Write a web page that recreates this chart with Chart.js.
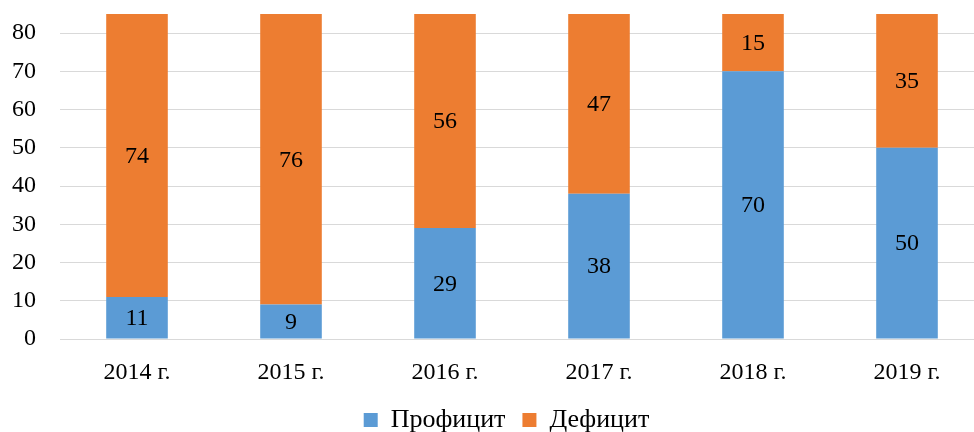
<!DOCTYPE html>
<html lang="ru">
<head>
<meta charset="UTF-8" />
<title>Профицит и дефицит</title>
<script src="https://cdn.jsdelivr.net/npm/chart.js"></script>
<style>
    html, body {
        margin: 0;
        padding: 0;
        background: #fff;
        overflow: hidden;
    }
    canvas {
        display: block;
    }
</style>
</head>
<body>
<canvas id="grafico" width="1014" height="432"></canvas>
<script>
    // Данные
    const anos = ['2014 г.', '2015 г.', '2016 г.', '2017 г.', '2018 г.', '2019 г.'];
    const proficit = [11, 9, 29, 38, 70, 50];
    const deficit = [74, 76, 56, 47, 15, 35];
    const marcasY = [0, 10, 20, 30, 40, 50, 60, 70, 80];

    const familia = "'Liberation Serif', 'Times New Roman', serif";
    const fonte = { family: familia, size: 24 };
    const fonteLegenda = { family: familia, size: 26 };

    // rótulos no meio de cada segmento
    const rotulos = {
        id: 'rotulos',
        afterDatasetsDraw(chart) {
            const ctx = chart.ctx;
            ctx.save();
            ctx.font = fonte.size + 'px ' + fonte.family;
            ctx.fillStyle = '#000';
            ctx.textAlign = 'center';
            ctx.textBaseline = 'middle';
            chart.data.datasets.forEach((ds, i) => {
                chart.getDatasetMeta(i).data.forEach((bar, j) => {
                    const y = (bar.y + bar.base) / 2;
                    ctx.fillText(String(ds.data[j]), bar.x, y + 1);
                });
            });
            ctx.restore();
        }
    };

    // legenda: altura fixa e posição ajustada
    const legendaPos = {
        id: 'legendaPos',
        beforeLayout(chart) {
            const lg = chart.legend;
            if (lg && !lg._fitOriginal) {
                lg._fitOriginal = lg.fit;
                lg.fit = function () {
                    this._fitOriginal();
                    this.height = 33;
                };
            }
        },
        afterLayout(chart) {
            const lg = chart.legend;
            if (lg) {
                lg.top = 390;
                lg.bottom = 432;
                lg.left = 29;
                lg.right = 984;
            }
        }
    };

    new Chart(document.getElementById('grafico'), {
        type: 'bar',
        data: {
            labels: anos,
            datasets: [
                {
                    label: 'Профицит',
                    data: proficit,
                    backgroundColor: '#5b9bd5'
                },
                {
                    label: 'Дефицит',
                    data: deficit,
                    backgroundColor: '#ed7d31'
                }
            ]
        },
        options: {
            responsive: false,
            animation: false,
            devicePixelRatio: 1,
            datasets: {
                bar: { barPercentage: 0.4, categoryPercentage: 1 }
            },
            layout: { padding: { top: 14, right: 30, left: 0, bottom: 0 } },
            scales: {
                x: {
                    stacked: true,
                    afterFit: (s) => { s.height = 60; },
                    grid: { display: false, drawTicks: false },
                    border: { display: true, color: '#d9d9d9' },
                    ticks: { color: '#000', font: fonte, padding: 19, maxRotation: 0 }
                },
                y: {
                    stacked: true,
                    min: 0,
                    max: 85,
                    afterBuildTicks: (s) => { s.ticks = marcasY.map(v => ({ value: v })); },
                    afterFit: (s) => {
                        s.width = 60;
                        s.paddingTop = 0;
                        s.paddingBottom = 0;
                    },
                    grid: { color: '#d9d9d9', lineWidth: 1, drawTicks: false },
                    border: { display: false },
                    ticks: { color: '#000', font: fonte, padding: 24 }
                }
            },
            plugins: {
                legend: {
                    position: 'bottom',
                    labels: {
                        color: '#000',
                        font: fonteLegenda,
                        boxWidth: 14,
                        boxHeight: 14,
                        padding: 17
                    }
                },
                tooltip: { enabled: false }
            }
        },
        plugins: [rotulos, legendaPos]
    });
</script>
</body>
</html>
